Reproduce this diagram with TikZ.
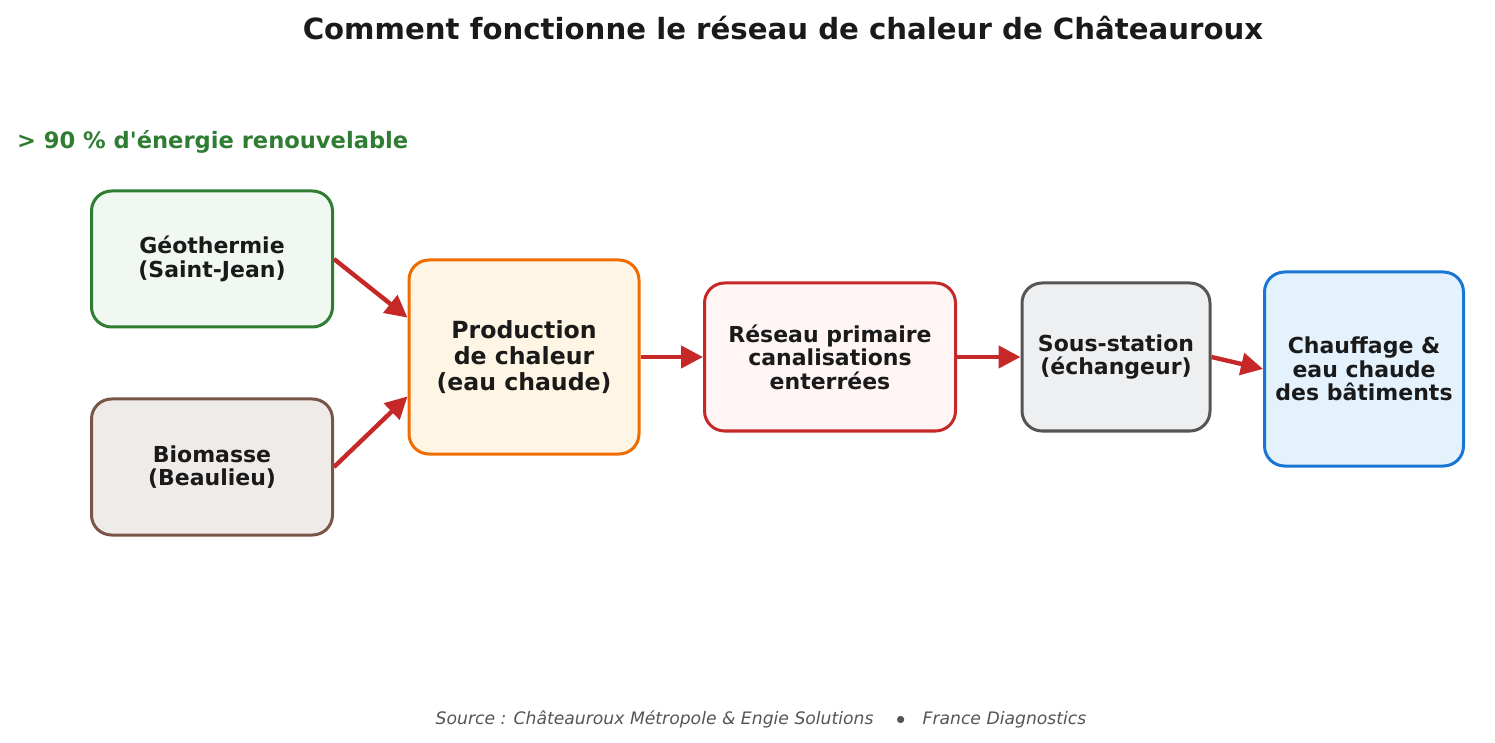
\documentclass[tikz,border=0pt]{standalone}
\usepackage{fontspec}
\setmainfont{DejaVu Sans}
\usetikzlibrary{positioning, arrows.meta, calc}
\definecolor{geoline}{HTML}{2E7D32}
\definecolor{geofill}{HTML}{F1F8F1}
\definecolor{bioline}{HTML}{795548}
\definecolor{biofill}{HTML}{EFEBE9}
\definecolor{prodline}{HTML}{EF6C00}
\definecolor{prodfill}{HTML}{FFF5E4}
\definecolor{resline}{HTML}{C62828}
\definecolor{resfill}{HTML}{FFF5F5}
\definecolor{sousline}{HTML}{555555}
\definecolor{sousfill}{HTML}{EEEFF1}
\definecolor{chline}{HTML}{1976D2}
\definecolor{chfill}{HTML}{E3F2FD}
\definecolor{textdark}{HTML}{1A1A1A}
\tikzset{
box/.style={draw, line width=1.5pt, rounded corners=10pt, align=center, inner sep=0pt, font=\bfseries\fontsize{11}{11.8}\selectfont, text=textdark}, % every block
flow/.style={-{Triangle[length=11pt,width=11pt]}, line width=2.2pt, draw=resline}, % red arrows
}
\begin{document}
\begin{tikzpicture}[x=0.5pt,y=-0.5pt]
\useasboundingbox (0,0) rectangle (1495,743);
\node[font=\bfseries\fontsize{14.6}{16}\selectfont, text=textdark] (title) at (783,28) {Comment fonctionne le réseau de chaleur de Châteauroux};
\node[font=\bfseries\fontsize{11.3}{12}\selectfont, text=geoline, anchor=west] (renouv) at (10,142) {> 90 \% d\textquotesingle énergie renouvelable};
% sources
\node[box, draw=geoline, fill=geofill, minimum width=120.5pt, minimum height=68pt] (geo) at (212,259) {Géothermie\\(Saint-Jean)};
\node[box, draw=bioline, fill=biofill, minimum width=120.5pt, minimum height=68pt] (bio) at (212,467) {Biomasse\\(Beaulieu)};
% chain
\node[box, draw=prodline, fill=prodfill, minimum width=115pt, minimum height=97pt, font=\bfseries\fontsize{11.8}{13}\selectfont] (prod) at (524,357) {Production\\de chaleur\\(eau chaude)};
\node[box, draw=resline, fill=resfill, minimum width=125.5pt, minimum height=74pt] (res) at (830,357) {Réseau primaire\\canalisations\\enterrées};
\node[box, draw=sousline, fill=sousfill, minimum width=94pt, minimum height=74pt] (sous) at (1116,357) {Sous-station\\(échangeur)};
\node[box, draw=chline, fill=chfill, minimum width=99.5pt, minimum height=97pt] (chauf) at (1364,369) {Chauffage \&\\eau chaude\\des bâtiments};
\draw[flow] (geo.east) -- ($(prod.north west)!0.3!(prod.south west)$);
\draw[flow] (bio.east) -- ($(prod.north west)!0.7!(prod.south west)$);
\draw[flow] (prod) -- (res);
\draw[flow] (res) -- (sous);
\draw[flow] (sous.east) -- (chauf.west);
\node[font=\itshape\fontsize{8.6}{10}\selectfont, text=sousline] (source) at (761,719) {Source : Châteauroux Métropole \& Engie Solutions \quad$\bullet$\quad France Diagnostics};
\end{tikzpicture}
\end{document}
